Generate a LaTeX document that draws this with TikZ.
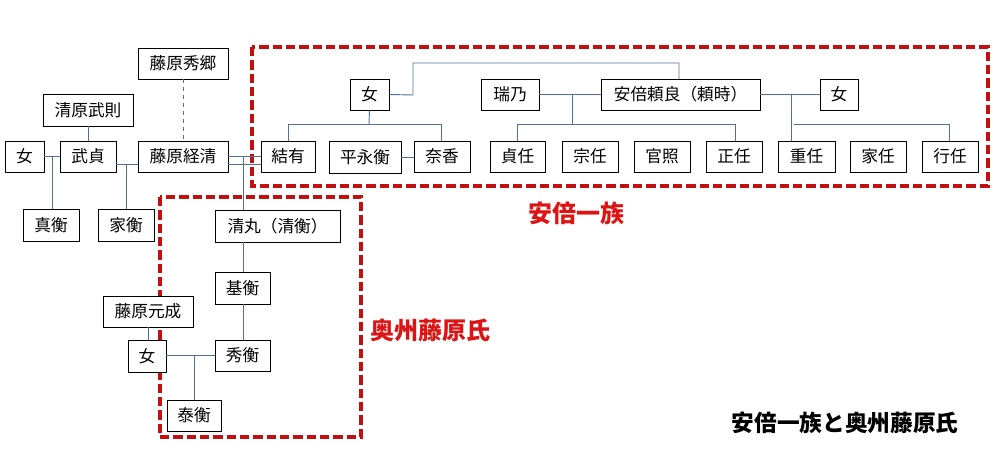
\documentclass[tikz,border=0pt]{standalone}
\usepackage{fontspec}
\setmainfont{Noto Sans CJK JP}
\begin{document}
\begin{tikzpicture}[x=0.75pt,y=-0.75pt,
  bx/.style={draw=black,line width=0.6pt,fill=white,inner sep=0pt,font=\fontsize{12.5}{14}\selectfont},
  ln/.style={draw={rgb,255:red,80;green,110;blue,160},line width=0.7pt},
  grp/.style={draw={rgb,255:red,195;green,15;blue,15},line width=2.8pt,dash pattern=on 7pt off 3pt},
  lab/.style={text={rgb,255:red,220;green,20;blue,20},font=\fontsize{18}{20}\selectfont\bfseries}]
\useasboundingbox (0,0) rectangle (999,460);
\newcommand\bxn[6]{\node[bx,minimum width={(#3-#2)*0.75pt},minimum height={(#5-#4)*0.75pt}] (#1) at ({(#2+#3)/2},{(#4+#5)/2}) {#6};}
\draw[grp] (252,47) rectangle (988,186);
\draw[grp] (160,197) rectangle (361,437);
\bxn{hs}{138}{228}{48}{79}{藤原秀郷}
\bxn{tn}{43}{133}{94}{126}{清原武則}
\bxn{wa}{5}{44}{141}{172}{女}
\bxn{ts}{60}{116}{141}{172}{武貞}
\bxn{tk}{138}{228}{141}{172}{藤原経清}
\bxn{yu}{261}{315}{141}{172}{結有}
\bxn{he}{329}{401}{141}{173}{平永衡}
\bxn{na}{414}{470}{141}{172}{奈香}
\bxn{sh}{23}{79}{209}{241}{真衡}
\bxn{ie}{98}{154}{209}{241}{家衡}
\bxn{ki}{215}{340}{210}{242}{清丸（清衡）}
\bxn{mo}{215}{270}{272}{304}{基衡}
\bxn{mn}{103}{193}{296}{327}{藤原元成}
\bxn{wb}{128}{166}{340}{372}{女}
\bxn{hi}{215}{270}{340}{371}{秀衡}
\bxn{ya}{167}{221}{400}{431}{泰衡}
\bxn{wc}{350}{389}{79}{110}{女}
\bxn{mz}{481}{539}{79}{110}{瑞乃}
\bxn{ab}{601}{760}{79}{110}{安倍頼良（頼時）}
\bxn{wd}{820}{858}{79}{110}{女}
\bxn{sa}{490}{545}{141}{172}{貞任}
\bxn{mu}{562}{618}{141}{172}{宗任}
\bxn{ka}{634}{690}{141}{172}{官照}
\bxn{ma}{706}{762}{141}{172}{正任}
\bxn{sg}{778}{835}{141}{172}{重任}
\bxn{it}{850}{906}{141}{172}{家任}
\bxn{yk}{922}{978}{141}{172}{行任}
% connectors
\draw[ln] (wc.east) -- (413,95) |- (679,63) -- (679,79);
\draw[ln] (wc.south) -- (369,124);
\draw[ln] (288,141) |- (441,124) -- (441,141);
\draw[ln] (he.east |- 0,157) -- (na.west |- 0,157);
\draw[ln] (mz.east) -- (ab.west);
\draw[ln] (572,95) -- (572,124);
\draw[ln] (517,141) |- (735,124) -- (735,141);
\draw[ln] (ab.east) -- (wd.west);
\draw[ln] (791,95) -- (791,141);
\draw[ln] (794,124) -| (949,141);
\draw[ln] (tk.east |- 0,156) -- (yu.west |- 0,156);
\draw[ln] (tk.east |- 0,164) -- (yu.west |- 0,164);
\draw[ln] (243,156) -- (243,210);
\draw[ln,dashed,line width=0.5pt] (hs.south) -- (tk.north);
\draw[ln] (tn.south -| 88,0) -- (88,141);
\draw[ln] (wa.east |- 0,156) -- (ts.west |- 0,156);
\draw[ln] (52,156) -- (52,209);
\draw[ln] (ts.east |- 0,164) -- (tk.west |- 0,164);
\draw[ln] (126,164) -- (126,209);
\draw[ln] (243,242) -- (243,272);
\draw[ln] (243,304) -- (243,340);
\draw[ln] (148,327) -- (148,340);
\draw[ln] (wb.east |- 0,355) -- (hi.west |- 0,355);
\draw[ln] (194,355) -- (194,400);
\node[lab] (l1) at (576,213) {安倍一族};
\node[lab] (l2) at (430,330) {奥州藤原氏};
\node[font=\fontsize{17}{19}\selectfont\bfseries] (l3) at (845,423) {安倍一族と奥州藤原氏};
\end{tikzpicture}
\end{document}
